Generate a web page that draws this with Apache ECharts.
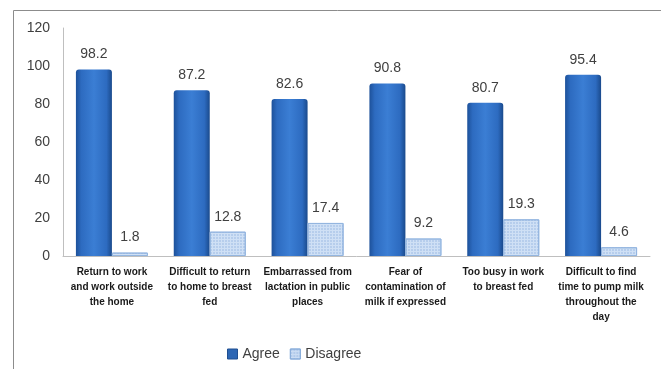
<!DOCTYPE html>
<html><head><meta charset="utf-8">
<script src="https://cdn.jsdelivr.net/npm/echarts@6/dist/echarts.min.js"></script>
<style>html,body{margin:0;padding:0;background:#fff}#c{width:661px;height:369px}</style>
</head><body><div id="c"></div>
<script>
const categories = [
  "Return to work\nand work outside\nthe home",
  "Difficult to return\nto home to breast\nfed",
  "Embarrassed from\nlactation in public\nplaces",
  "Fear of\ncontamination of\nmilk if expressed",
  "Too busy in work\nto breast fed",
  "Difficult to find\ntime to pump milk\nthroughout the\nday"
];
const agree = [98.2, 87.2, 82.6, 90.8, 80.7, 95.4];
const disagree = [1.8, 12.8, 17.4, 9.2, 19.3, 4.6];
const seriesNames = ["Agree", "Disagree"];

const chart = echarts.init(document.getElementById('c'));
const lbl = {show:true, position:'top', distance:8, color:'#404040', fontSize:14, fontFamily:'Liberation Sans, Arial'};
chart.setOption({
  animation:false,
  graphic:[{type:'rect', shape:{x:13.5,y:10.5,width:700,height:400}, style:{fill:'none', stroke:'#8c8c8c', lineWidth:1}, silent:true}],
  grid:{left:63, right:11, top:28, bottom:113},
  legend:{left:222, top:342, itemWidth:10, itemHeight:10, itemGap:10,
    textStyle:{color:'#404040', fontSize:14, fontFamily:'Liberation Sans, Arial'},
    data:[{name:seriesNames[0], icon:'rect', itemStyle:{color:'#2c66b4', borderColor:'#1f4f91', borderWidth:1}},
          {name:seriesNames[1], icon:'rect', itemStyle:{color:'#cadcf3', borderColor:'#8aaedb', borderWidth:1}}]},
  xAxis:{type:'category', data:categories,
    axisLine:{lineStyle:{color:'#bfbfbf'}}, axisTick:{show:false},
    axisLabel:{interval:0, color:'#1a1a1a', fontSize:10, fontWeight:'bold', lineHeight:15, margin:9,
      fontFamily:'Liberation Sans, Arial'}},
  yAxis:{type:'value', min:0, max:120, interval:20,
    axisLine:{show:true, lineStyle:{color:'#bfbfbf'}}, axisTick:{show:false}, splitLine:{show:false},
    axisLabel:{color:'#404040', fontSize:14, margin:13, fontFamily:'Liberation Sans, Arial'}},
  series:[
    {name:seriesNames[0], type:'bar', data:agree, barWidth:36, barGap:'0%',
     itemStyle:{color:new echarts.graphic.LinearGradient(0,0,1,0,[
       {offset:0,color:'#1d519a'},{offset:0.15,color:'#2d6bc0'},{offset:0.5,color:'#3b7ed4'},{offset:0.85,color:'#2d6bc0'},{offset:1,color:'#1a4a8c'}]),
       borderRadius:[3,3,0,0]},
     label:lbl},
    {name:seriesNames[1], type:'bar', data:disagree, barWidth:36,
     itemStyle:{color:'#cfe0f5', borderColor:'#94b6e0', borderWidth:1,
       decal:{symbol:'circle', symbolSize:0.7, color:'rgba(95,140,205,0.6)', dashArrayX:[[2,1]], dashArrayY:[2,1], rotation:0}},
     label:lbl}
  ]
});
</script></body></html>
